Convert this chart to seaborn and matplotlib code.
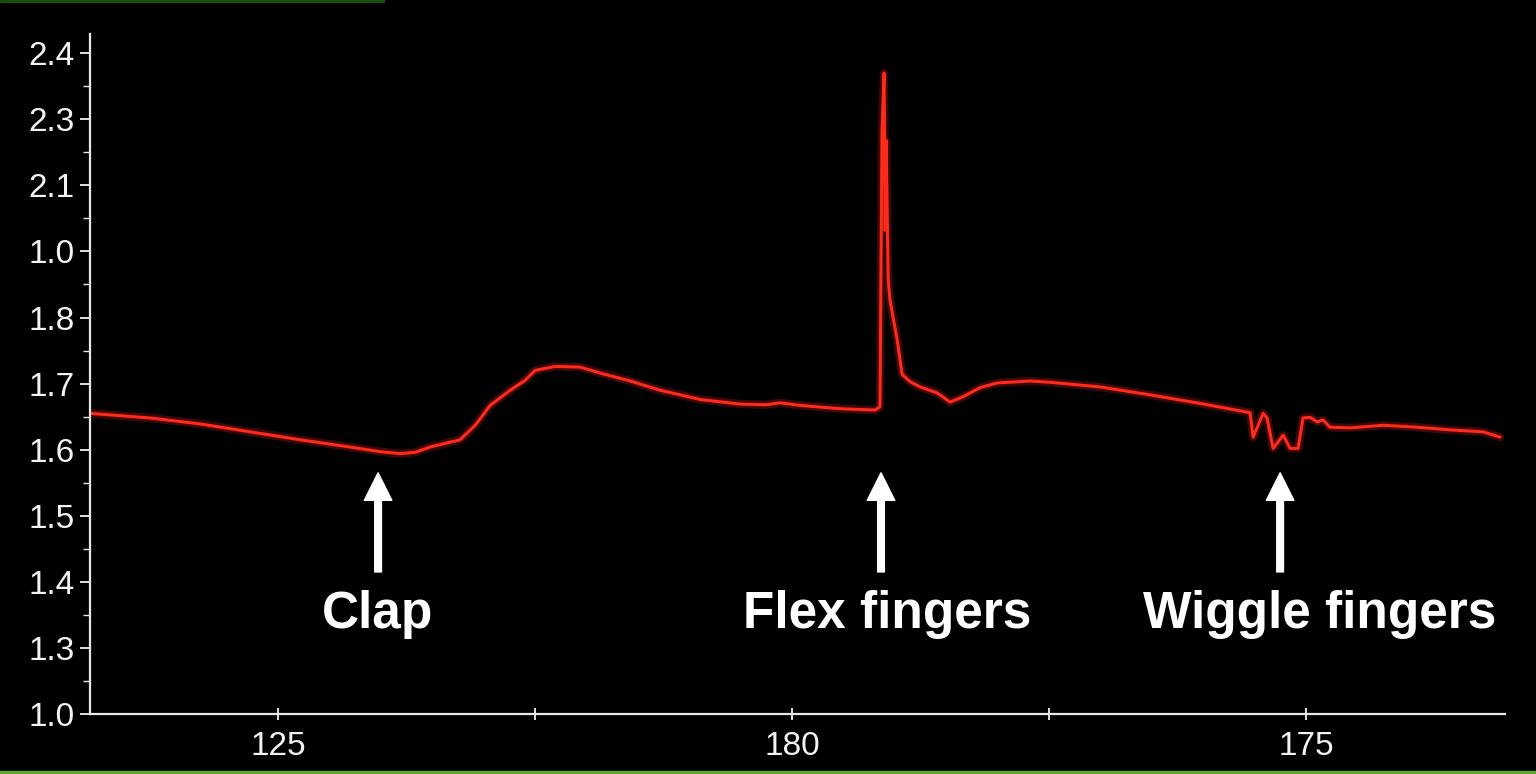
import numpy as np
import pandas as pd
import matplotlib
matplotlib.use("Agg")
import matplotlib.pyplot as plt
from matplotlib.patches import Rectangle
import seaborn as sns

# sensor trace (time units, signal value)
time = [0.268, 0.502, 0.696, 0.891, 1.086, 1.280, 1.397, 1.475, 1.533, 1.591,
        1.708, 1.767, 1.825, 1.903, 1.961, 2.000, 2.078, 2.175, 2.253, 2.370,
        2.486, 2.642, 2.798, 2.900, 2.953, 3.031, 3.187, 3.323, 3.342, 3.350,
        3.358, 3.362, 3.366, 3.374, 3.381, 3.409, 3.428, 3.459, 3.498, 3.564,
        3.615, 3.665, 3.732, 3.798, 3.926, 4.004, 4.198, 4.393, 4.588, 4.782,
        4.794, 4.833, 4.848, 4.872, 4.911, 4.938, 4.969, 4.988, 5.016, 5.043,
        5.066, 5.093, 5.171, 5.300, 5.432, 5.560, 5.689, 5.755]
signal = [1.655, 1.648, 1.639, 1.627, 1.615, 1.604, 1.597, 1.594, 1.596, 1.604,
          1.615, 1.637, 1.667, 1.690, 1.705, 1.720, 1.726, 1.725, 1.716, 1.704,
          1.690, 1.676, 1.669, 1.668, 1.671, 1.667, 1.662, 1.660, 1.665, 2.083,
          2.170, 1.932, 2.068, 1.857, 1.826, 1.766, 1.714, 1.703, 1.695, 1.686,
          1.672, 1.680, 1.694, 1.701, 1.704, 1.702, 1.695, 1.683, 1.670, 1.656,
          1.619, 1.655, 1.648, 1.602, 1.622, 1.602, 1.602, 1.648, 1.649, 1.642,
          1.645, 1.634, 1.633, 1.637, 1.634, 1.630, 1.627, 1.619]

# axis labels as printed on the chart
y_tick_pos = [1.2, 1.3, 1.4, 1.5, 1.6, 1.7, 1.8, 1.9, 2.0, 2.1, 2.2]
y_tick_labels = ["1.0", "1.3", "1.4", "1.5", "1.6", "1.7", "1.8", "1.0", "2.1", "2.3", "2.4"]
x_tick_pos = [1, 2, 3, 4, 5]
x_tick_labels = ["125", "", "180", "", "175"]

# event markers
event_names = ["Clap", "Flex fingers", "Wiggle fingers"]
event_x = [1.389, 3.346, 4.899]
event_text_x = [1.385, 3.370, 5.054]

df = pd.DataFrame({"time": time, "signal": signal})

sns.set_style("dark", {"axes.facecolor": "black", "figure.facecolor": "black"})
plt.rcParams["font.family"] = ["Liberation Sans", "DejaVu Sans"]

fig = plt.figure(figsize=(15.36, 7.74), dpi=100)
fig.patch.set_facecolor("black")
# green strip along the bottom edge and a faint one on top
fig.patches.append(Rectangle((0, 0), 1, 0.0045, transform=fig.transFigure,
                             color="#5ea832", zorder=0))
fig.patches.append(Rectangle((0, 0.9975), 0.25, 0.0025, transform=fig.transFigure,
                             color="#1d4d0e", zorder=0))

ax = fig.add_axes([0.0586, 0.0775, 0.9212, 0.8785])
ax.set_facecolor("black")

# soft glow under the trace
sns.lineplot(data=df, x="time", y="signal", ax=ax, color="#ff2020", lw=6,
             alpha=0.25, sort=False, estimator=None)
sns.lineplot(data=df, x="time", y="signal", ax=ax, color="#ff2a1a", lw=2.2,
             sort=False, estimator=None)

ax.set_xlim(0.268, 5.774)
ax.set_ylim(1.2, 2.229)
ax.set_xlabel("")
ax.set_ylabel("")

ax.set_yticks(y_tick_pos)
ax.set_yticklabels(y_tick_labels)
ax.set_yticks([p + 0.05 for p in y_tick_pos[:-1]], minor=True)
ax.set_xticks(x_tick_pos)
ax.set_xticklabels(x_tick_labels)

ax.tick_params(axis="y", which="major", colors="#f2f2f2", labelsize=24,
               length=7, width=1.3, direction="out", left=True, pad=4)
ax.tick_params(axis="y", which="minor", colors="#e8e8e8", length=5, width=1.0,
               direction="out", left=True)
ax.tick_params(axis="x", which="major", colors="#f2f2f2", labelsize=24,
               length=9, width=1.3, direction="inout", bottom=True, pad=8)
ax.grid(False)

for side in ["top", "right"]:
    ax.spines[side].set_visible(False)
for side in ["left", "bottom"]:
    ax.spines[side].set_visible(True)
    ax.spines[side].set_color("#e8e8e8")
    ax.spines[side].set_linewidth(1.6)

for name, ex, tx in zip(event_names, event_x, event_text_x):
    ax.annotate("", xy=(ex, 1.565), xytext=(ex, 1.415),
                arrowprops=dict(arrowstyle="simple,head_length=0.9,head_width=0.9,tail_width=0.22",
                                color="white", mutation_scale=22, shrinkA=0, shrinkB=0))
    ax.text(tx, 1.35, name, color="white", fontsize=37, fontweight="bold",
            ha="center", va="center")

fig.savefig("out.png", dpi=100, facecolor=fig.get_facecolor())
